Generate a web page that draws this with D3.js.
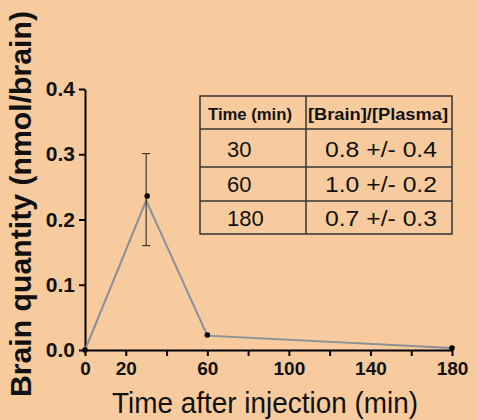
<!DOCTYPE html>
<html><head><meta charset="utf-8">
<script src="https://cdn.jsdelivr.net/npm/d3@7"></script>
<style>
html,body{margin:0;padding:0;background:#F7CB9D;}
svg{display:block;}
text{font-family:"Liberation Sans",Arial,sans-serif;}
</style></head>
<body>
<script>
// Data
const times = [0, 30, 60, 180];
const lineValues = [0, 0.229, 0.022, 0.003];
const pointValues = [0, 0.236, 0.023, 0.003];
const errLow = [null, 0.160, null, null];
const errHigh = [null, 0.301, null, null];
const xTicks = [0, 20, 40, 60, 80, 100, 120, 140, 160, 180];
const xTickLabels = ["0", "20", "", "60", "", "100", "", "140", "", "180"];
const yTicks = [0, 0.1, 0.2, 0.3, 0.4];
const tableHeader = ["Time (min)", "[Brain]/[Plasma]"];
const tableTimes = ["30", "60", "180"];
const tableRatios = ["0.8 +/- 0.4", "1.0 +/- 0.2", "0.7 +/- 0.3"];

const W = 477, H = 420;
const svg = d3.select("body").append("svg").attr("width", W).attr("height", H);
svg.append("rect").attr("width", W).attr("height", H).attr("fill", "#F7CB9D");

const x = d3.scaleLinear().domain([0, 180]).range([85, 452]);
const y = d3.scaleLinear().domain([0, 0.4]).range([350, 89]);

// axes
const xAxis = svg.append("g").attr("transform", `translate(0,${y(0)})`)
  .call(d3.axisBottom(x).tickValues(xTicks).tickFormat((d, i) => xTickLabels[i]).tickSize(6).tickSizeOuter(0));
const yAxis = svg.append("g").attr("transform", `translate(${x(0)},0)`)
  .call(d3.axisLeft(y).tickValues(yTicks).tickFormat(d3.format(".1f")).tickSize(6).tickSizeOuter(0));
[xAxis, yAxis].forEach(g => {
  g.select(".domain").attr("stroke", "#000").attr("stroke-width", 2);
  g.selectAll(".tick line").attr("stroke", "#000").attr("stroke-width", 2);
  g.selectAll(".tick text").attr("fill", "#111").attr("font-weight", "bold")
    .attr("font-family", "Liberation Sans, Arial, sans-serif");
});
xAxis.selectAll(".tick text").attr("font-size", 19).attr("dy", "0.71em").attr("y", 12);
yAxis.selectAll(".tick text").attr("font-size", 21).attr("x", -10);

// line
const pts = times.map((t, i) => ({t, v: lineValues[i]}));
svg.append("path").datum(pts)
  .attr("d", d3.line().x(d => x(d.t)).y(d => y(d.v)))
  .attr("fill", "none").attr("stroke", "#8a9098").attr("stroke-width", 2);

// error bars
times.forEach((t, i) => {
  if (errLow[i] == null) return;
  const g = svg.append("g").attr("stroke", "#3a3a3a").attr("stroke-width", 1.2);
  g.append("line").attr("x1", x(t)).attr("x2", x(t)).attr("y1", y(errLow[i])).attr("y2", y(errHigh[i]));
  g.append("line").attr("x1", x(t) - 4).attr("x2", x(t) + 4).attr("y1", y(errLow[i])).attr("y2", y(errLow[i]));
  g.append("line").attr("x1", x(t) - 4).attr("x2", x(t) + 4).attr("y1", y(errHigh[i])).attr("y2", y(errHigh[i]));
});

// points
svg.selectAll("circle.pt").data(times.map((t, i) => ({t, v: pointValues[i]}))).enter()
  .append("circle").attr("class", "pt")
  .attr("cx", d => x(d.t) + (d.t === 30 ? 1 : 0)).attr("cy", d => y(d.v)).attr("r", 2.8).attr("fill", "#000");

// axis titles
svg.append("text").attr("x", 112).attr("y", 413)
  .attr("font-size", 30).attr("fill", "#111")
  .attr("textLength", 306).attr("lengthAdjust", "spacingAndGlyphs")
  .text("Time after injection (min)");
svg.append("text").attr("transform", `translate(31,397) rotate(-90)`)
  .attr("font-size", 30).attr("font-weight", "bold").attr("fill", "#111")
  .attr("textLength", 386).attr("lengthAdjust", "spacingAndGlyphs")
  .text("Brain quantity (nmol/brain)");

// table
const tx0 = 200, tx1 = 306, tx2 = 452;
const rowY = [96, 129, 167, 201, 234];
const tg = svg.append("g");
const border = tg.append("g").attr("stroke", "#333").attr("stroke-width", 1.5).attr("fill", "none");
border.append("rect").attr("x", tx0).attr("y", rowY[0]).attr("width", tx2 - tx0).attr("height", rowY[4] - rowY[0]);
rowY.slice(1, 4).forEach(yy => border.append("line").attr("x1", tx0).attr("x2", tx2).attr("y1", yy).attr("y2", yy));
border.append("line").attr("x1", tx1).attr("x2", tx1).attr("y1", rowY[0]).attr("y2", rowY[4]);

tg.append("text").attr("x", 208).attr("y", 120).attr("font-size", 16).attr("font-weight", "bold").attr("fill", "#111")
  .attr("textLength", 84).attr("lengthAdjust", "spacingAndGlyphs").text(tableHeader[0]);
tg.append("text").attr("x", 308).attr("y", 120).attr("font-size", 16).attr("font-weight", "bold").attr("fill", "#111")
  .attr("textLength", 140).attr("lengthAdjust", "spacingAndGlyphs").text(tableHeader[1]);
const baselines = [157, 192, 226];
tableTimes.forEach((s, i) => {
  tg.append("text").attr("x", 227).attr("y", baselines[i]).attr("font-size", 22).attr("fill", "#111").text(s);
  tg.append("text").attr("x", 325).attr("y", baselines[i]).attr("font-size", 22).attr("fill", "#111")
    .attr("textLength", 112).attr("lengthAdjust", "spacingAndGlyphs").text(tableRatios[i]);
});
</script>
</body></html>
